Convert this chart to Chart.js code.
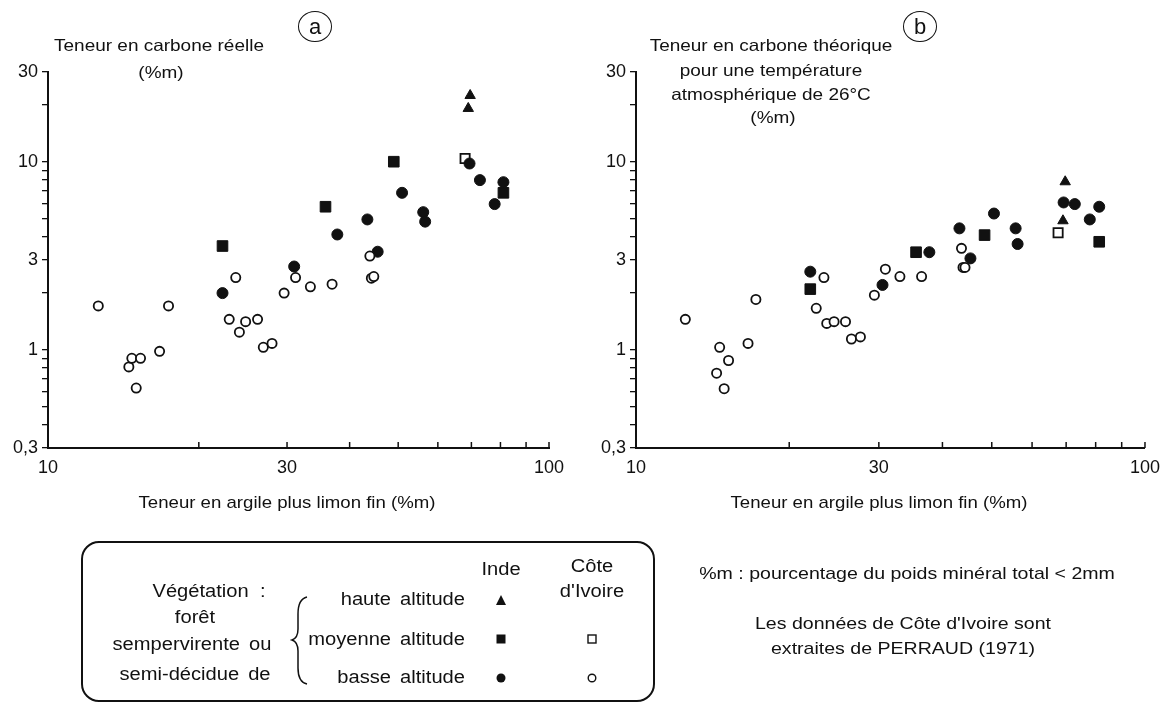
<!DOCTYPE html>
<html>
<head>
<meta charset="utf-8">
<script src="https://cdn.jsdelivr.net/npm/chart.js@4.4.1/dist/chart.umd.min.js"></script>
<style>
  html, body { margin: 0; padding: 0; background: #fff; }
  body { position: relative; width: 1169px; height: 704px; overflow: hidden; }
  canvas { position: absolute; top: 0; }
  .lbl { position: absolute; white-space: pre; font-family: 'Liberation Sans', Arial, sans-serif; color: #111; line-height: 1; }
  .ring { position: absolute; border: 1.8px solid #111; border-radius: 50%; box-sizing: border-box;
          font-family: 'Liberation Sans', Arial, sans-serif; font-size: 22px; color: #111;
          display: flex; align-items: center; justify-content: center; }
  #legendBox { position: absolute; left: 81px; top: 541px; width: 574px; height: 161px;
               border: 2px solid #111; border-radius: 18px; box-sizing: border-box; }
  svg { position: absolute; left: 0; top: 0; }
</style>
</head>
<body>
<canvas id="chartA" width="580" height="480" style="left:0"></canvas>
<canvas id="chartB" width="589" height="480" style="left:580px"></canvas>
<div id="legendBox"></div>
<svg width="1169" height="704">
  <path d="M307,597 Q298,599 298,614 L298,629 Q298,638 292,640 Q298,642 298,651 L298,668 Q298,682 307,684" fill="none" stroke="#111" stroke-width="1.5"/>
  <polygon points="501,595 506,605 496,605" fill="#111"/>
  <rect x="496.5" y="634.5" width="9" height="9" fill="#111"/>
  <circle cx="501" cy="678" r="4.5" fill="#111"/>
  <rect x="588" y="635" width="8" height="8" fill="#fff" stroke="#111" stroke-width="1.4"/>
  <circle cx="592" cy="678" r="3.8" fill="#fff" stroke="#111" stroke-width="1.4"/>
</svg>
<script>
// axes
const xTicks = [10, 20, 30, 40, 50, 60, 70, 80, 90, 100];
const xLabelValues = [10, 30, 100];
const xLabelTexts = ['10', '30', '100'];
const yTicks = [0.3, 0.4, 0.5, 0.6, 0.7, 0.8, 0.9, 1, 2, 3, 4, 5, 6, 7, 8, 9, 10, 20, 30];
const yLabelValues = [0.3, 1, 3, 10, 30];
const yLabelTexts = ['0,3', '1', '3', '10', '30'];

// (a) teneur en carbone réelle
const aIndeHauteX = [69.6, 69.0];
const aIndeHauteY = [22.5, 19.2];
const aIndeMoyenneX = [22.3, 35.8, 49.0, 81.1];
const aIndeMoyenneY = [3.56, 5.76, 10.0, 6.83];
const aCiMoyenneX = [68.0];
const aCiMoyenneY = [10.4];
const aIndeBasseX = [22.3, 31.0, 37.8, 43.4, 45.5, 50.9, 56.1, 56.6, 69.4, 72.8, 77.9, 81.1];
const aIndeBasseY = [2.0, 2.77, 4.1, 4.93, 3.32, 6.83, 5.39, 4.8, 9.78, 7.98, 5.95, 7.78];
const aCiBasseX = [12.6, 14.5, 14.7, 15.3, 15.0, 16.7, 17.4, 23.7, 23.0, 24.1, 24.8, 26.2, 26.9, 28.0, 29.6, 31.2, 33.4, 36.9, 43.9, 44.2, 44.7];
const aCiBasseY = [1.71, 0.81, 0.90, 0.90, 0.625, 0.98, 1.71, 2.42, 1.45, 1.24, 1.41, 1.45, 1.03, 1.08, 2.0, 2.42, 2.16, 2.23, 3.15, 2.4, 2.45];

// (b) teneur en carbone théorique à 26°C
const bIndeHauteX = [69.7, 69.0];
const bIndeHauteY = [7.82, 4.85];
const bIndeMoyenneX = [22.0, 35.5, 48.4, 81.3];
const bIndeMoyenneY = [2.1, 3.3, 4.07, 3.75];
const bCiMoyenneX = [67.5];
const bCiMoyenneY = [4.19];
const bIndeBasseX = [22.0, 30.5, 37.7, 43.2, 45.4, 50.5, 55.7, 56.2, 69.2, 72.8, 77.9, 81.3];
const bIndeBasseY = [2.6, 2.21, 3.3, 4.42, 3.06, 5.3, 4.42, 3.65, 6.07, 5.95, 4.93, 5.76];
const bCiBasseX = [12.5, 14.6, 15.2, 14.4, 14.9, 16.6, 17.2, 23.4, 22.6, 23.7, 24.5, 25.8, 26.5, 27.6, 29.4, 30.9, 33.0, 36.4, 43.6, 43.9, 44.3];
const bCiBasseY = [1.45, 1.03, 0.876, 0.75, 0.62, 1.08, 1.85, 2.42, 1.66, 1.38, 1.41, 1.41, 1.14, 1.17, 1.95, 2.68, 2.45, 2.45, 3.46, 2.74, 2.74];

const INK = '#111';

function pts(xs, ys) {
    return xs.map((x, i) => ({ x: x, y: ys[i] }));
}

function labelFor(values, texts, v) {
    const i = values.findIndex(t => Math.abs(t - v) < 1e-9);
    return i >= 0 ? texts[i] : '';
}

// petites graduations vers l'intérieur sur l'axe des x
const innerTicks = {
    id: 'innerTicks',
    afterDraw(chart) {
        const xs = chart.scales.x;
        const ctx = chart.ctx;
        const bottom = chart.chartArea.bottom;
        ctx.save();
        ctx.strokeStyle = INK;
        ctx.lineWidth = 1.5;
        xTicks.forEach(v => {
            const px = xs.getPixelForValue(v);
            ctx.beginPath();
            ctx.moveTo(px, bottom);
            ctx.lineTo(px, bottom - 6);
            ctx.stroke();
        });
        ctx.restore();
    }
};

function makeChart(id, d, yWidth, padRight) {
    return new Chart(document.getElementById(id), {
        type: 'scatter',
        data: {
            datasets: [
                { data: pts(d.ciBasseX, d.ciBasseY), pointStyle: 'circle', pointRadius: 4.6,
                  backgroundColor: '#fff', borderColor: INK, borderWidth: 1.8 },
                { data: pts(d.indeBasseX, d.indeBasseY), pointStyle: 'circle', pointRadius: 5.5,
                  backgroundColor: INK, borderColor: INK, borderWidth: 1 },
                { data: pts(d.ciMoyenneX, d.ciMoyenneY), pointStyle: 'rect', pointRadius: 6.5,
                  backgroundColor: '#fff', borderColor: INK, borderWidth: 1.8 },
                { data: pts(d.indeMoyenneX, d.indeMoyenneY), pointStyle: 'rect', pointRadius: 7.5,
                  backgroundColor: INK, borderColor: INK, borderWidth: 1 },
                { data: pts(d.indeHauteX, d.indeHauteY), pointStyle: 'triangle', pointRadius: 6,
                  backgroundColor: INK, borderColor: INK, borderWidth: 1 }
            ]
        },
        options: {
            responsive: false,
            animation: false,
            layout: { padding: { top: 72, right: padRight, bottom: 0, left: 0 } },
            plugins: { legend: { display: false }, tooltip: { enabled: false } },
            scales: {
                x: {
                    type: 'logarithmic', min: 10, max: 100,
                    afterBuildTicks: s => { s.ticks = xTicks.map(v => ({ value: v })); },
                    afterFit: s => { s.height = 32; },
                    grid: { display: false, drawTicks: false },
                    border: { display: true, width: 2, color: INK },
                    ticks: {
                        autoSkip: false, maxRotation: 0, padding: 9, color: INK,
                        font: { family: 'Liberation Sans', size: 18 },
                        callback: v => labelFor(xLabelValues, xLabelTexts, v)
                    }
                },
                y: {
                    type: 'logarithmic', min: 0.3, max: 30,
                    afterBuildTicks: s => { s.ticks = yTicks.map(v => ({ value: v })); },
                    afterFit: s => { s.width = yWidth; },
                    grid: { display: true, drawOnChartArea: false, drawTicks: true, tickLength: 6,
                            color: INK, lineWidth: 1.3 },
                    border: { display: true, width: 2, color: INK },
                    ticks: {
                        autoSkip: false, padding: 4, color: INK,
                        font: { family: 'Liberation Sans', size: 18 },
                        callback: v => labelFor(yLabelValues, yLabelTexts, v)
                    }
                }
            }
        },
        plugins: [innerTicks]
    });
}

makeChart('chartA', {
    indeHauteX: aIndeHauteX, indeHauteY: aIndeHauteY,
    indeMoyenneX: aIndeMoyenneX, indeMoyenneY: aIndeMoyenneY,
    ciMoyenneX: aCiMoyenneX, ciMoyenneY: aCiMoyenneY,
    indeBasseX: aIndeBasseX, indeBasseY: aIndeBasseY,
    ciBasseX: aCiBasseX, ciBasseY: aCiBasseY
}, 48, 31);

makeChart('chartB', {
    indeHauteX: bIndeHauteX, indeHauteY: bIndeHauteY,
    indeMoyenneX: bIndeMoyenneX, indeMoyenneY: bIndeMoyenneY,
    ciMoyenneX: bCiMoyenneX, ciMoyenneY: bCiMoyenneY,
    indeBasseX: bIndeBasseX, indeBasseY: bIndeBasseY,
    ciBasseX: bCiBasseX, ciBasseY: bCiBasseY
}, 56, 24);

// textes
function put(text, x, y, size, align, extra) {
    const d = document.createElement('div');
    d.className = 'lbl';
    d.textContent = text;
    d.style.left = x + 'px';
    d.style.top = y + 'px';
    d.style.fontSize = size + 'px';
    if (align === 'right') {
        d.style.transformOrigin = '100% 50%';
        d.style.transform = 'translate(-100%,-50%) scaleX(1.15)';
    } else {
        d.style.transform = 'translate(-50%,-50%) scaleX(1.15)';
    }
    if (extra) Object.assign(d.style, extra);
    document.body.appendChild(d);
}

function ring(letter, x, y) {
    const d = document.createElement('div');
    d.className = 'ring';
    d.textContent = letter;
    d.style.left = (x - 17) + 'px';
    d.style.top = (y - 15) + 'px';
    d.style.width = '34px';
    d.style.height = '31px';
    document.body.appendChild(d);
}

put('Teneur en carbone réelle', 159, 45, 16.5);
put('(%m)', 161, 72, 16.5);
ring('a', 315, 26);
put('Teneur en argile plus limon fin (%m)', 287, 502, 16.2);

put('Teneur en carbone théorique', 771, 45, 16.5);
put('pour une température', 771, 70, 16.5);
put('atmosphérique de 26°C', 771, 94, 16.5);
put('(%m)', 773, 117, 16.5);
ring('b', 920, 26);
put('Teneur en argile plus limon fin (%m)', 879, 502, 16.2);

const ws = { wordSpacing: '3px' };
put('Végétation  :', 209, 592, 17.5);
put('forêt', 195, 618, 17.5);
put('sempervirente ou', 192, 645, 17.5, 'center', ws);
put('semi-décidue de', 195, 675, 17.5, 'center', ws);
put('haute altitude', 465, 600, 17.5, 'right', ws);
put('moyenne altitude', 465, 640, 17.5, 'right', ws);
put('basse altitude', 465, 678, 17.5, 'right', ws);
put('Inde', 501, 570, 17.5);
put('Côte', 592, 567, 17.5);
put("d'Ivoire", 592, 592, 17.5);

put('%m : pourcentage du poids minéral total < 2mm', 907, 573, 17);
put("Les données de Côte d'Ivoire sont", 903, 623, 17);
put('extraites de PERRAUD (1971)', 903, 648, 17);
</script>
</body>
</html>
